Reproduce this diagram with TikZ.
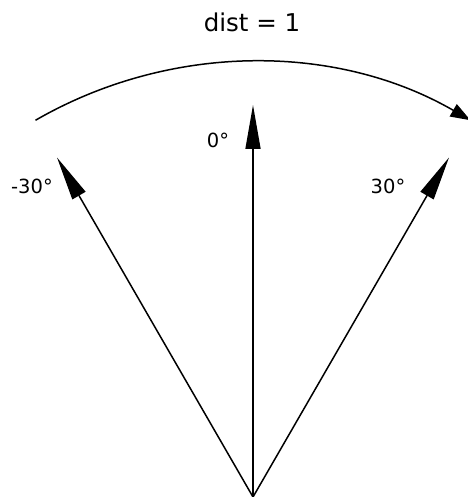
\documentclass[tikz,border=0pt]{standalone}
\usepackage{fontspec}
\setmainfont{DejaVu Sans}
\usetikzlibrary{arrows.meta,calc}
\begin{document}
\begin{tikzpicture}[x=1pt,y=1pt,
  ray/.style={line width=1.5pt,-{Triangle[length=44pt,width=15pt]}},
  arcline/.style={line width=1.5pt,-{Triangle[length=20pt,width=14pt]}},
  lbl/.style={font=\fontsize{19.5}{23}\selectfont,inner sep=0pt},
  ttl/.style={font=\fontsize{24.5}{28}\selectfont,inner sep=0pt}]
\useasboundingbox (0,0) rectangle (467,497);
\coordinate (O) at (253,0);
\coordinate (T0) at (253,392);
\coordinate (Tm) at (57,339.5);
\coordinate (Tp) at (449,339.5);
\draw[ray] (O) -- (T0);
\draw[ray] (O) -- (Tm);
\draw[ray] (O) -- (Tp);
\coordinate (A) at ($(O)+(120:435)$);
\draw[arcline] (A) arc[start angle=120,end angle=60,radius=435];
\node[lbl] (l0) at (218,357) {0°};
\node[lbl] (lm) at (32,311) {-30°};
\node[lbl] (lp) at (388,311) {30°};
\node[ttl,anchor=base] (t) at (252,465) {dist = 1};
\end{tikzpicture}
\end{document}
